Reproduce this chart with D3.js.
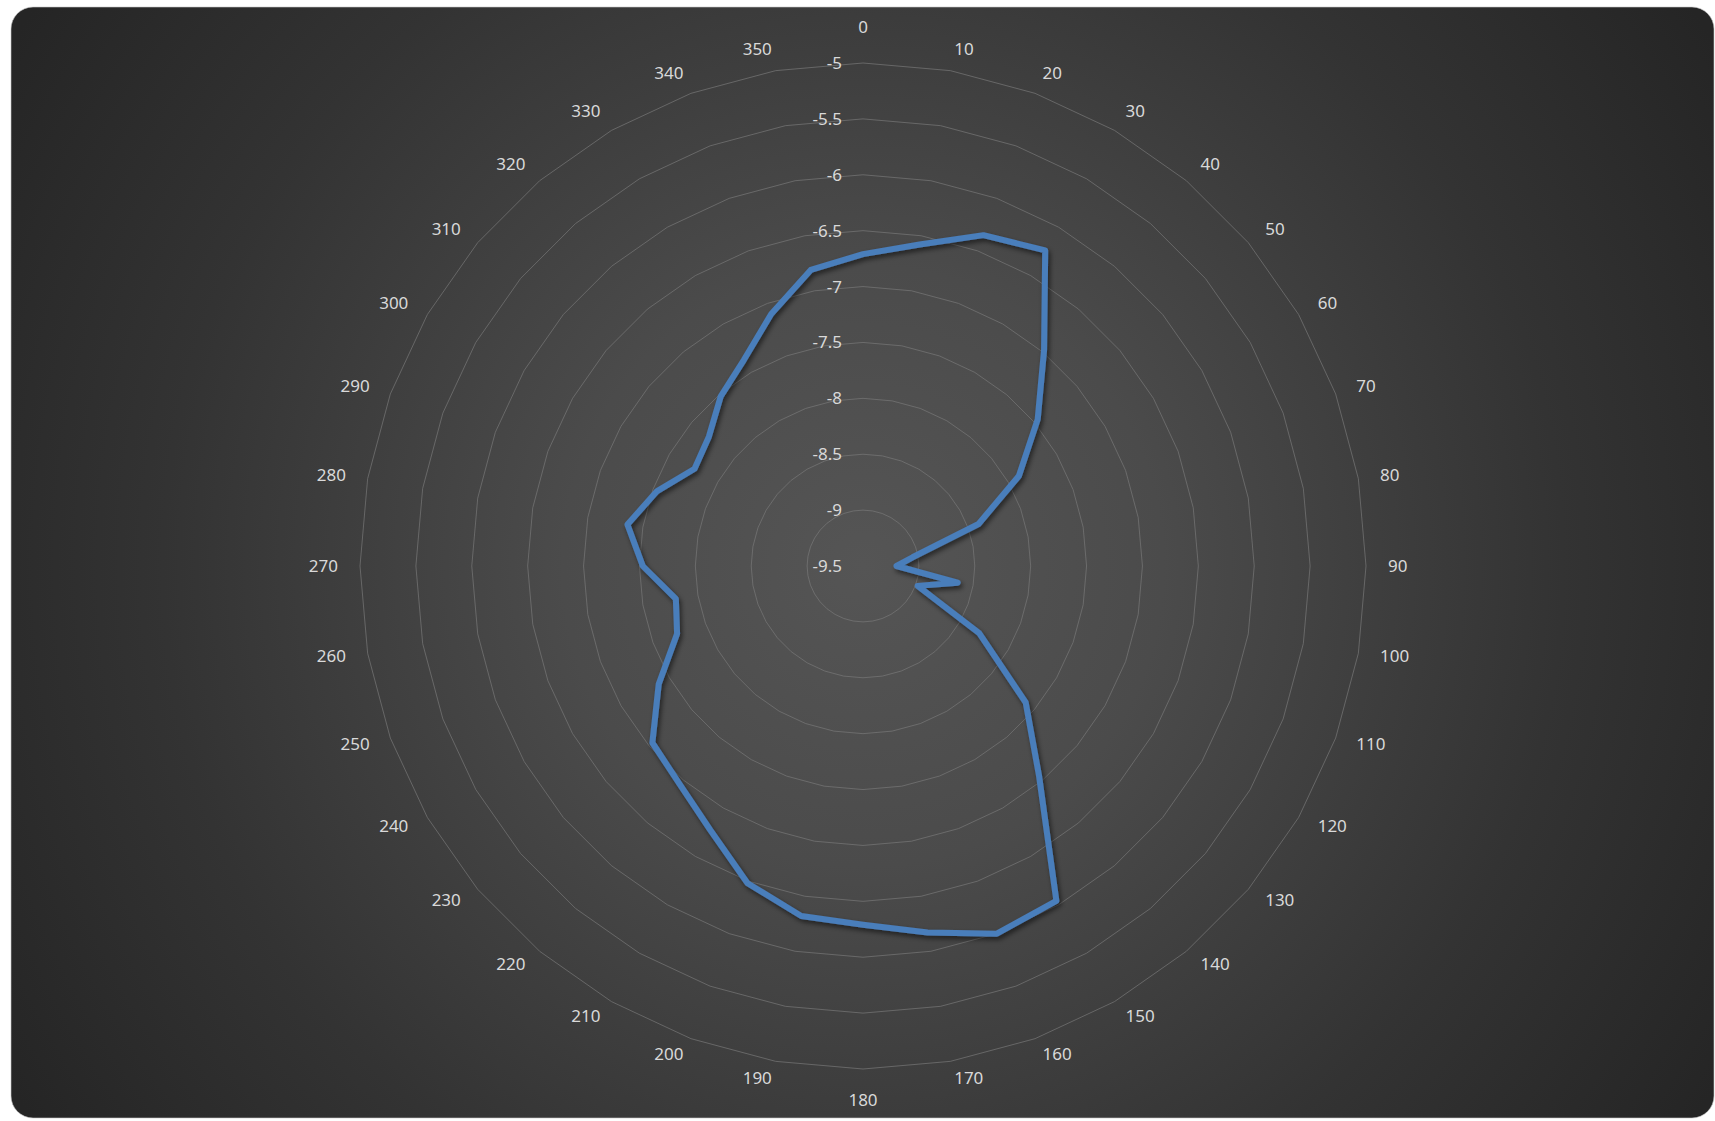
<!DOCTYPE html>
<html><head><meta charset="UTF-8"><title>radar</title>
<script src="https://cdn.jsdelivr.net/npm/d3@7"></script>
<style>
	body	{ margin:0; background:#fff; }
	svg	{ display:block; }
	text	{ font-family:"Noto Sans","Open Sans",sans-serif; fill:#d9d9d9; }
</style>
</head><body>
<svg id="chart" width="1715" height="1121"></svg>
<script>
// angle categories (degrees) and the one series
var angles=[0,10,20,30,40,50,60,70,80,90,100,110,120,130,140,150,160,170,
	180,190,200,210,220,230,240,250,260,270,280,290,300,310,320,330,340,350];
var values=[-6.71,-6.58,-6.35,-6.24,-6.98,-7.46,-7.89,-8.40,-9.05,-9.20,-8.64,-8.98,
	-8.30,-7.60,-7.05,-6.04,-6.00,-6.17,-6.29,-6.32,-6.48,-6.77,-6.95,-7.04,
	-7.39,-7.73,-7.80,-7.53,-7.36,-7.54,-7.76,-7.70,-7.52,-7.37,-7.10,-6.81];
var valueTicks=[-5,-5.5,-6,-6.5,-7,-7.5,-8,-8.5,-9,-9.5];

var W=1715,H=1121, cx=863, cy=566, R=503;
var svg=d3.select('#chart');
var defs=svg.append('defs');

var grad=defs.append('radialGradient').attr('id','bg')
	.attr('gradientUnits','userSpaceOnUse').attr('cx',cx).attr('cy',cy).attr('r',1000);
grad.append('stop').attr('offset',0).attr('stop-color','#555555');
grad.append('stop').attr('offset',0.3).attr('stop-color','#4b4b4b');
grad.append('stop').attr('offset',0.7).attr('stop-color','#333333');
grad.append('stop').attr('offset',1).attr('stop-color','#252525');

var sh=defs.append('filter').attr('id','shadow').attr('x','-10%').attr('y','-10%').attr('width','120%').attr('height','120%');
sh.append('feDropShadow').attr('dx',2).attr('dy',3).attr('stdDeviation',2.5)
	.attr('flood-color','#000').attr('flood-opacity',0.55);

svg.append('rect').attr('x',11).attr('y',7).attr('width',W-12).attr('height',H-10)
	.attr('rx',22).attr('fill','url(#bg)').attr('stroke','#c8c8c8').attr('stroke-width',0.6);

var r=d3.scaleLinear().domain([-9.5,-5]).range([0,R]);
var a=d3.scaleLinear().domain([0,360]).range([0,2*Math.PI]);

var g=svg.append('g').attr('transform','translate('+cx+','+cy+')');

// polygon gridlines
var ring=d3.lineRadial().curve(d3.curveLinearClosed);
g.append('g').selectAll('path').data(valueTicks.filter(function(v){return v>-9.5;}))
	.enter().append('path')
	.attr('d',function(v){ return ring(angles.map(function(d){return [a(d),r(v)];})); })
	.attr('fill','none').attr('stroke','#777').attr('stroke-opacity',0.7).attr('stroke-width',1);

// value axis labels
g.append('g').selectAll('text').data(valueTicks).enter().append('text')
	.attr('x',-21).attr('y',function(v){return -r(v);})
	.attr('dy','0.35em').attr('text-anchor','end').attr('font-size',17)
	.text(function(v){return v;});

// category labels: box pushed outward like excel does
var lr=R+22;
g.append('g').selectAll('text').data(angles).enter().append('text')
	.attr('dy','0.35em').attr('text-anchor','middle').attr('font-size',17)
	.text(function(d){return d;})
	.each(function(d){
		var t=d3.select(this), w=this.getComputedTextLength(),
			s=Math.sin(a(d)), c=Math.cos(a(d)), x, y;
		if(Math.abs(s)<1e-6){ x=0; y= c>0 ? -(lr+14) : lr+9; }
		else{
			x=lr*s+(s>0?1:-1)*w/2;
			y= c>0 ? -lr*c : -(lr-5.5)*c;
		}
		t.attr('x',x).attr('y',y);
	});

// series
var line=d3.lineRadial().angle(function(d,i){return a(angles[i]);})
	.radius(function(d){return r(d);}).curve(d3.curveLinearClosed);
g.append('path').datum(values).attr('d',line)
	.attr('fill','none').attr('stroke','#4a7ebb').attr('stroke-width',6)
	.attr('stroke-linejoin','round').attr('filter','url(#shadow)');
</script>
</body></html>
